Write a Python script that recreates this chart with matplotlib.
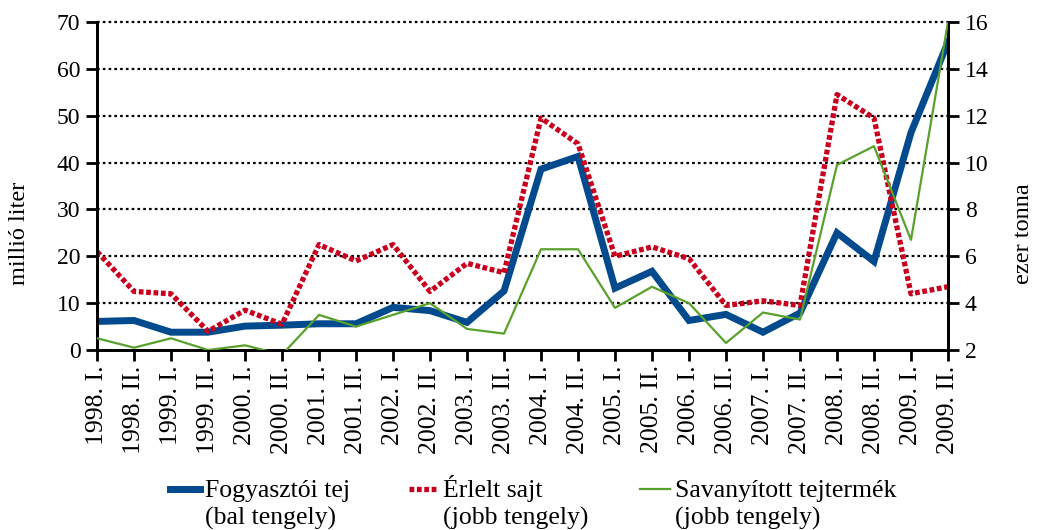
import matplotlib.pyplot as plt
from matplotlib.lines import Line2D
import numpy as np

# ---- data ----
periods = ["1998. I.", "1998. II.", "1999. I.", "1999. II.", "2000. I.", "2000. II.",
           "2001. I.", "2001. II.", "2002. I.", "2002. II.", "2003. I.", "2003. II.",
           "2004. I.", "2004. II.", "2005. I.", "2005. II.", "2006. I.", "2006. II.",
           "2007. I.", "2007. II.", "2008. I.", "2008. II.", "2009. I.", "2009. II."]

# millió liter (bal tengely)
fogyasztoi_tej = [6.1, 6.3, 3.8, 3.8, 5.1, 5.3, 5.6, 5.6, 9.1, 8.4, 5.9, 12.6,
                  38.6, 41.3, 13.2, 16.8, 6.3, 7.6, 3.8, 7.9, 25.0, 18.9, 46.4, 65.7]

# ezer tonna (jobb tengely)
erlelt_sajt = [6.2, 4.5, 4.4, 2.8, 3.7, 3.1, 6.5, 5.8, 6.5, 4.5, 5.7, 5.3,
               11.9, 10.8, 6.0, 6.4, 5.9, 3.9, 4.1, 3.9, 12.9, 11.9, 4.4, 4.7]

savanyitott = [2.5, 2.1, 2.5, 2.0, 2.2, 1.8, 3.5, 3.0, 3.5, 4.0, 2.9, 2.7,
               6.3, 6.3, 3.8, 4.7, 4.0, 2.3, 3.6, 3.3, 9.9, 10.7, 6.7, 16.0]

labels = [("Fogyasztói tej", "(bal tengely)"),
          ("Érlelt sajt", "(jobb tengely)"),
          ("Savanyított tejtermék", "(jobb tengely)")]

# ---- style ----
plt.rcParams['font.family'] = ['Liberation Serif', 'DejaVu Serif']
plt.rcParams['font.size'] = 17
BLUE = "#004a8d"
RED = "#c8001e"
GREEN = "#5aa02c"
RED_DASH = (0, (0.9, 0.5))

x = np.arange(len(periods))

fig = plt.figure(figsize=(10.39, 5.30), dpi=100)
ax = fig.add_axes([0.0934, 0.3396, 0.819, 0.6189])
ax2 = ax.twinx()

# grid
for v in range(10, 80, 10):
    ax.axhline(v, color="black", lw=1.6, ls=(0, (1.2, 1.4)), zorder=0, clip_on=False)

l1, = ax.plot(x, fogyasztoi_tej, color=BLUE, lw=5, solid_joinstyle="miter", zorder=2)
l2, = ax2.plot(x, erlelt_sajt, color=RED, lw=3.8, ls=RED_DASH, zorder=2)
l3, = ax2.plot(x, savanyitott, color=GREEN, lw=1.6, zorder=3)

ax.set_xlim(0, len(periods) - 1)
ax.set_ylim(0, 70)
ax.set_yticks(range(0, 80, 10))
ax2.set_ylim(2, 16)
ax2.set_yticks(range(2, 18, 2))

ax.set_xticks(x)
ax.set_xticklabels(periods, rotation=90, va="top", fontsize=18.5)

for a in (ax, ax2):
    for s in a.spines.values():
        s.set_linewidth(2)
    a.spines["top"].set_visible(False)
    a.tick_params(width=2, length=8, pad=4, labelsize=17, direction="out")
ax.tick_params(axis="x", labelsize=18.5, pad=3)

fig.text(0.019, 0.56, "millió liter", rotation=90, ha="center", va="center", fontsize=17.5)
fig.text(0.985, 0.56, "ezer tonna", rotation=90, ha="center", va="center", fontsize=17.5)

# legend drawn by hand so the key sits next to the first text line
W, H = 1039, 530
keys = [(170, 200, 205, "-"), (409, 436, 443, RED_DASH), (640, 670, 675, "-")]
for (x0, x1, xt, ls), ln, (line1, line2) in zip(keys, [l1, l2, l3], labels):
    y = 1 - 489 / H
    fig.add_artist(Line2D([x0 / W, x1 / W], [y, y], color=ln.get_color(),
                          lw=ln.get_linewidth(), ls=ls))
    fig.text(xt / W, 1 - 497 / H, line1, ha="left", va="baseline", fontsize=18.5)
    fig.text(xt / W, 1 - 525 / H, line2, ha="left", va="baseline", fontsize=18.5)

fig.savefig("out.png", dpi=100)
